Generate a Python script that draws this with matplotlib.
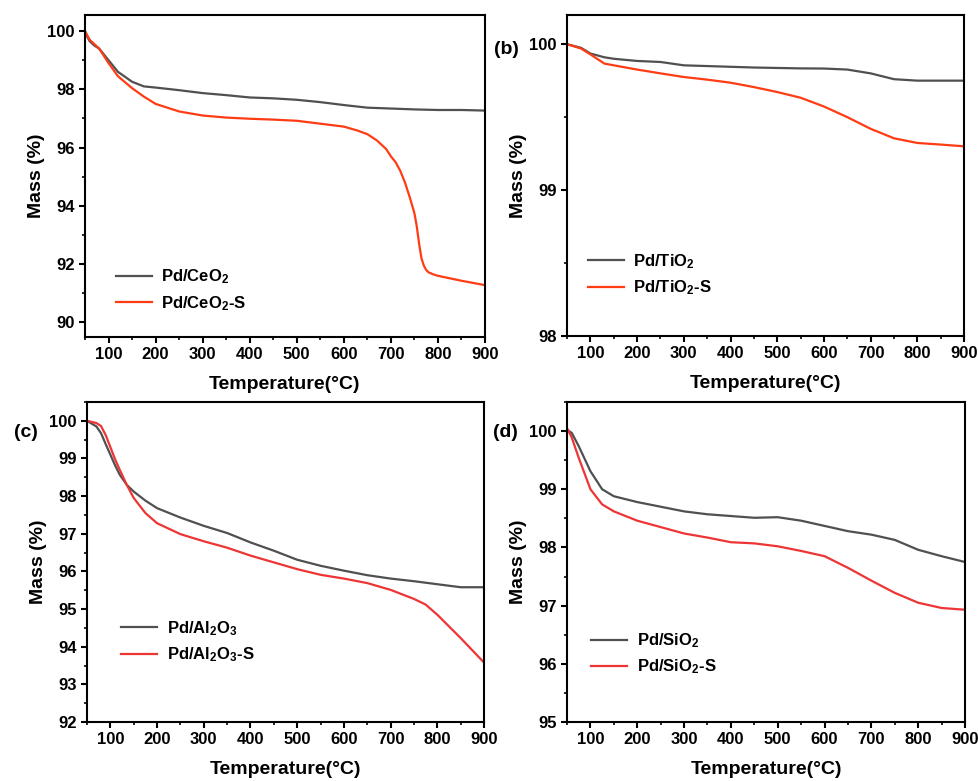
import matplotlib
matplotlib.use("Agg")
import matplotlib.pyplot as plt
from matplotlib.ticker import MultipleLocator

plt.rcParams['font.family'] = ['Liberation Sans', 'DejaVu Sans']
plt.rcParams['font.weight'] = 'bold'
plt.rcParams['mathtext.fontset'] = 'custom'
plt.rcParams['mathtext.rm'] = 'Liberation Sans:bold'
plt.rcParams['mathtext.bf'] = 'Liberation Sans:bold'
plt.rcParams['mathtext.default'] = 'bf'

GRAY = "#505050"
ORANGE = "#ff3c14"
RED = "#ee3535"

# (a) Pd/CeO2
ce_t = [50, 55, 60, 70, 80, 90, 100, 120, 150, 175, 200, 250, 300, 350, 400, 450, 500,
        550, 600, 650, 700, 750, 800, 850, 900]
ce_pure = [100.0, 99.8, 99.65, 99.5, 99.4, 99.2, 99.0, 98.6, 98.26, 98.1, 98.06, 97.97,
           97.87, 97.8, 97.72, 97.69, 97.64, 97.56, 97.46, 97.37, 97.34, 97.31, 97.29,
           97.29, 97.27]
ce_s_t = [50, 55, 60, 70, 80, 90, 100, 120, 150, 175, 200, 250, 300, 350, 400, 450, 500,
          550, 600, 630, 650, 670, 690, 700, 710, 720, 730, 740, 750, 755, 760, 765, 770,
          775, 780, 790, 800, 850, 900]
ce_s = [100.0, 99.85, 99.7, 99.55, 99.4, 99.15, 98.9, 98.45, 98.04, 97.75, 97.5, 97.24,
        97.1, 97.03, 96.99, 96.96, 96.92, 96.82, 96.72, 96.58, 96.46, 96.25, 95.95, 95.7,
        95.5, 95.2, 94.8, 94.3, 93.75, 93.3, 92.7, 92.2, 91.95, 91.8, 91.72, 91.65, 91.6,
        91.43, 91.28]

# (b) Pd/TiO2
ti_t = [50, 80, 100, 130, 150, 200, 250, 300, 350, 400, 450, 500, 550, 600, 650, 700,
        750, 800, 850, 900]
ti_pure = [100.0, 99.975, 99.936, 99.91, 99.9, 99.885, 99.878, 99.855, 99.85, 99.845,
           99.84, 99.837, 99.834, 99.833, 99.826, 99.8, 99.76, 99.75, 99.75, 99.75]
ti_s = [100.0, 99.97, 99.93, 99.867, 99.855, 99.826, 99.8, 99.775, 99.757, 99.736,
        99.706, 99.672, 99.633, 99.573, 99.5, 99.42, 99.355, 99.323, 99.312, 99.3]

# (c) Pd/Al2O3
al_t = [50, 70, 80, 90, 100, 110, 120, 135, 150, 175, 200, 250, 300, 350, 400, 450, 500,
        550, 600, 650, 700, 750, 775, 800, 850, 900]
al_pure = [100.0, 99.85, 99.67, 99.38, 99.1, 98.82, 98.57, 98.3, 98.12, 97.88, 97.68,
           97.43, 97.21, 97.02, 96.77, 96.55, 96.31, 96.15, 96.02, 95.9, 95.81, 95.74,
           95.7, 95.66, 95.58, 95.58]
al_s = [100.0, 99.94, 99.86, 99.62, 99.3, 98.98, 98.7, 98.3, 97.95, 97.55, 97.28, 96.99,
        96.8, 96.63, 96.42, 96.24, 96.06, 95.91, 95.81, 95.69, 95.51, 95.27, 95.12, 94.85,
        94.23, 93.58]

# (d) Pd/SiO2
si_t = [50, 60, 75, 100, 125, 150, 200, 250, 300, 350, 400, 450, 500, 550, 600, 650,
        700, 750, 800, 850, 900]
si_pure = [100.02, 99.97, 99.74, 99.31, 99.0, 98.88, 98.78, 98.7, 98.62, 98.57, 98.54,
           98.51, 98.52, 98.46, 98.37, 98.28, 98.22, 98.13, 97.96, 97.85, 97.75]
si_s = [100.05, 99.89, 99.54, 99.0, 98.74, 98.62, 98.46, 98.35, 98.24, 98.17, 98.09,
        98.07, 98.02, 97.94, 97.85, 97.65, 97.43, 97.22, 97.05, 96.96, 96.93]

panels = [
    # rect, ylim, major, minor, tag, data, labels, colour, legend anchor
    ([0.0868, 0.5685, 0.4086, 0.4123], (89.5, 100.55), 2, 1, None,
     (ce_t, ce_pure, ce_s_t, ce_s), ("Pd/CeO$_2$", "Pd/CeO$_2$-S"), ORANGE,
     (0.06, 0.055)),
    ([0.5792, 0.5698, 0.4055, 0.4110], (98.0, 100.2), 1, 0.5, "(b)",
     (ti_t, ti_pure, ti_t, ti_s), ("Pd/TiO$_2$", "Pd/TiO$_2$-S"), ORANGE,
     (0.035, 0.1)),
    ([0.0889, 0.0755, 0.4055, 0.4098], (92.0, 100.5), 1, 0.5, "(c)",
     (al_t, al_pure, al_t, al_s), ("Pd/Al$_2$O$_3$", "Pd/Al$_2$O$_3$-S"), RED,
     (0.068, 0.16)),
    ([0.5792, 0.0755, 0.4065, 0.4098], (95.0, 100.5), 1, 0.5, "(d)",
     (si_t, si_pure, si_t, si_s), ("Pd/SiO$_2$", "Pd/SiO$_2$-S"), RED,
     (0.043, 0.122)),
]

fig = plt.figure(figsize=(9.79, 7.81), dpi=100)

for rect, ylim, major, minor, tag, data, labels, scol, lpos in panels:
    ax = fig.add_axes(rect)
    t1, y1, t2, y2 = data
    ax.plot(t1, y1, color=GRAY, lw=1.6, label=labels[0])
    ax.plot(t2, y2, color=scol, lw=1.6, label=labels[1])
    ax.set_xlim(50, 900)
    ax.set_ylim(*ylim)
    ax.xaxis.set_minor_locator(MultipleLocator(50))
    ax.yaxis.set_major_locator(MultipleLocator(major))
    ax.yaxis.set_minor_locator(MultipleLocator(minor))
    ax.set_xticks(range(100, 901, 100))
    ax.tick_params(which='major', direction='out', length=4, width=1.5, labelsize=12,
                   top=False, right=False)
    ax.tick_params(which='minor', direction='out', length=2.5, width=1.2,
                   top=False, right=False)
    for lab in ax.get_xticklabels() + ax.get_yticklabels():
        lab.set_fontweight('bold')
    for s in ax.spines.values():
        s.set_linewidth(1.5)
    ax.set_xlabel("Temperature(°C)", fontsize=14, fontweight='bold')
    ax.set_ylabel("Mass (%)", fontsize=14, fontweight='bold')
    ax.xaxis.set_label_coords(0.5, -0.122)
    ax.yaxis.set_label_coords(-0.1, 0.5)
    leg = ax.legend(loc='lower left', bbox_to_anchor=lpos, frameon=False,
                    fontsize=12, handlelength=2.2, handletextpad=0.55,
                    labelspacing=0.45, borderaxespad=0)
    for txt in leg.get_texts():
        txt.set_fontweight('bold')
    if tag:
        ty = 0.893 if tag == "(b)" else 0.905
        ax.text(-0.185, ty, tag, transform=ax.transAxes,
                fontsize=14, fontweight='bold', ha='left', va='center')

fig.savefig("out.png", dpi=100)
